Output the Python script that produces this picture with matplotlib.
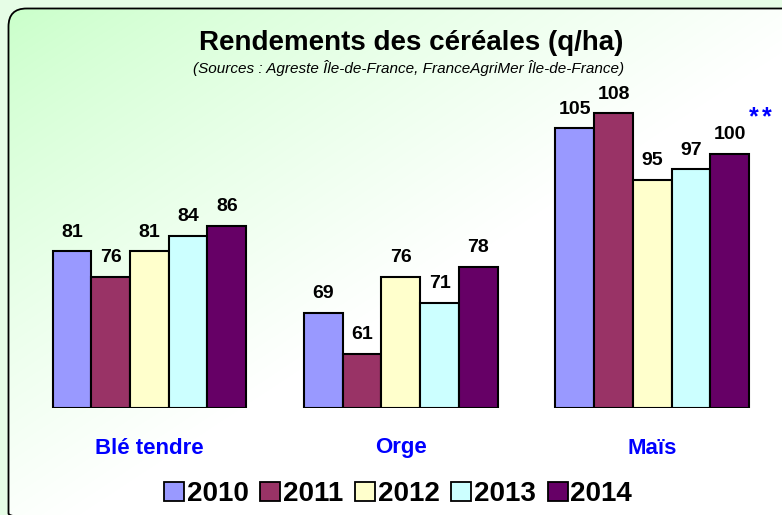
import numpy as np
import matplotlib
matplotlib.use("Agg")
import matplotlib.pyplot as plt
from matplotlib.patches import FancyBboxPatch, Rectangle
import matplotlib.transforms as mtransforms

plt.rcParams['font.family'] = ['Liberation Sans', 'DejaVu Sans']

categories = ["Blé tendre", "Orge", "Maïs"]
years = ["2010", "2011", "2012", "2013", "2014"]
values = {
    "2010": [81, 69, 105],
    "2011": [76, 61, 108],
    "2012": [81, 76, 95],
    "2013": [84, 71, 97],
    "2014": [86, 78, 100],
}
colors = ["#9999ff", "#993366", "#ffffcc", "#ccffff", "#660066"]
title = "Rendements des céréales (q/ha)"
subtitle = "(Sources : Agreste Île-de-France, FranceAgriMer Île-de-France)"
note = "**"

W, H = 782, 515
fig = plt.figure(figsize=(W / 100, H / 100), dpi=100)
fig.patch.set_facecolor("#e6fde6")

# background with rounded panel and diagonal gradient
bg = fig.add_axes([0, 0, 1, 1], zorder=0)
bg.set_xlim(0, W)
bg.set_ylim(H, 0)
bg.axis("off")
yy, xx = np.mgrid[0:H, 0:W]
t = np.clip((xx / W + yy / H) / 1.1, 0, 1)
t = t ** 0.8
c0 = np.array([0.78, 1.0, 0.78])
c1 = np.array([1.0, 1.0, 1.0])
img = c0[None, None, :] * (1 - t[..., None]) + c1[None, None, :] * t[..., None]
im = bg.imshow(img, extent=(0, W, H, 0), interpolation="bilinear", aspect="auto")
panel = FancyBboxPatch((8.5, 8.5), W + 10, H + 8,
                       boxstyle="round,pad=0,rounding_size=18",
                       facecolor="none", edgecolor="black", linewidth=1.3)
bg.add_patch(panel)
im.set_clip_path(panel)

# main axes
ax = fig.add_axes([23.7 / W, (H - 408) / H, (778 - 23.7) / W, 332.8 / H], zorder=1)
ax.patch.set_alpha(0)
for s in ax.spines.values():
    s.set_visible(False)
ax.set_xlim(-0.5, 2.5)
ax.set_ylim(50.4, 115.4)
ax.set_xticks([])
ax.set_yticks([])

x = np.arange(len(categories))
bw = 0.154
n = len(years)
for i, (yr, col) in enumerate(zip(years, colors)):
    xs = x + (i - (n - 1) / 2) * bw
    vals = values[yr]
    ax.bar(xs, [v - 50.4 for v in vals], bottom=50.4, width=bw, color=col,
           edgecolor="black", linewidth=1.5, label=yr)
    for xi, v in zip(xs, vals):
        ax.annotate(f"{v}", (xi, v), xytext=(0, 10.5), textcoords="offset points",
                    ha="center", va="baseline", fontsize=14, fontweight="bold")

trans = mtransforms.blended_transform_factory(ax.transData, fig.transFigure)
for xi, c in zip(x, categories):
    ax.text(xi, 1 - 448 / H, c, transform=trans, ha="center", va="center",
            fontsize=16, fontweight="bold", color="#0000ff")

fig.text(411 / W, 1 - 43 / H, title, ha="center", va="center",
         fontsize=20, fontweight="bold")
fig.text(409 / W, 1 - 68 / H, subtitle, ha="center", va="center",
         fontsize=11, style="italic")
for px in (753.5, 767):
    fig.text(px / W, 1 - 117 / H, note[0], ha="center", va="center",
             fontsize=18, fontweight="bold", color="#0000ff")

handles = [Rectangle((0, 0), 1, 1, facecolor=c, edgecolor="black", linewidth=1.3)
           for c in colors]
leg = fig.legend(handles, years, loc="center", bbox_to_anchor=(398 / W, 1 - 494 / H),
                 ncol=5, frameon=False, handlelength=0.72, handleheight=0.66,
                 handletextpad=0.1, columnspacing=0.42, borderaxespad=0,
                 prop={"size": 20, "weight": "bold"})

fig.savefig("out.png", dpi=100, facecolor=fig.get_facecolor())
